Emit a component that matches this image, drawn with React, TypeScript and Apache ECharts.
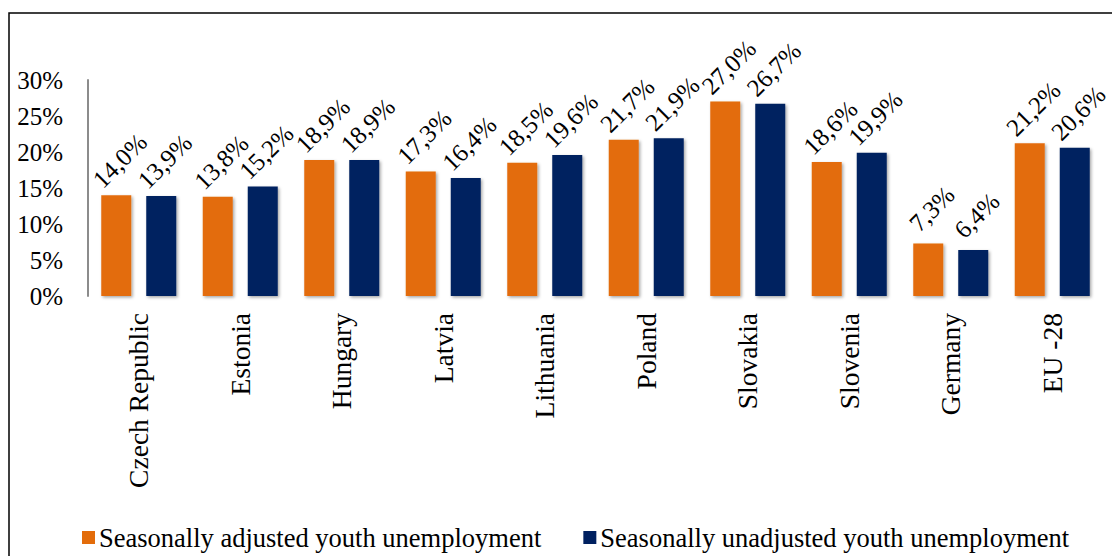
import React, { useEffect, useRef } from "react";
import * as echarts from "echarts";

// Youth unemployment rates by country (%)
const countries = [
  "Czech Republic",
  "Estonia",
  "Hungary",
  "Latvia",
  "Lithuania",
  "Poland",
  "Slovakia",
  "Slovenia",
  "Germany",
  "EU -28",
];
const adjusted = [14.0, 13.8, 18.9, 17.3, 18.5, 21.7, 27.0, 18.6, 7.3, 21.2];
const unadjusted = [13.9, 15.2, 18.9, 16.4, 19.6, 21.9, 26.7, 19.9, 6.4, 20.6];
const seriesNames = [
  "Seasonally adjusted youth unemployment",
  "Seasonally unadjusted youth unemployment",
];
const yTicks = { min: 0, max: 30, interval: 5 };

const FONT = '"Liberation Serif", "Times New Roman", serif';
const ORANGE = "#E36C0A";
const NAVY = "#002060";

const fmtPct = (v: number) => v.toFixed(1).replace(".", ",") + "%";

export default function App() {
  const ref = useRef<HTMLDivElement>(null);

  useEffect(() => {
    if (!ref.current) return;
    const chart = echarts.init(ref.current, null, { renderer: "svg" });

    const barStyle = (color: string) => ({
      color,
      shadowColor: "rgba(0,0,0,0.35)",
      shadowBlur: 3,
      shadowOffsetX: 1.5,
      shadowOffsetY: 1.5,
    });

    const valueLabel = {
      show: true,
      position: "top" as const,
      distance: 31,
      offset: [5, 0],
      rotate: 45,
      align: "center" as const,
      verticalAlign: "middle" as const,
      fontFamily: FONT,
      fontSize: 25,
      color: "#000",
      formatter: (p: any) => fmtPct(p.value),
    };

    chart.setOption({
      animation: false,
      backgroundColor: "#fff",
      textStyle: { fontFamily: FONT },
      graphic: [
        {
          type: "rect",
          shape: { x: 9, y: 13, width: 1300, height: 700 },
          style: { fill: "none", stroke: "#000", lineWidth: 1.5 },
          silent: true,
        },
      ],
      grid: { left: 88, right: 9, top: 80, bottom: 260 },
      legend: {
        data: seriesNames,
        left: 82,
        top: 524,
        padding: 0,
        itemWidth: 13,
        itemHeight: 13,
        itemGap: 42,
        icon: "rect",
        textStyle: {
          fontFamily: FONT,
          fontSize: 26.5,
          color: "#000",
          lineHeight: 27,
          padding: [0, 0, 0, -1],
        },
      },
      xAxis: {
        type: "category",
        data: countries,
        axisLine: {
          lineStyle: {
            color: "#8c8c8c",
            width: 2,
            shadowColor: "rgba(0,0,0,0.25)",
            shadowBlur: 2,
            shadowOffsetY: 1,
          },
        },
        axisTick: { show: false },
        axisLabel: {
          rotate: 90,
          margin: 17,
          fontFamily: FONT,
          fontSize: 27.5,
          color: "#000",
          interval: 0,
        },
      },
      yAxis: {
        type: "value",
        min: yTicks.min,
        max: yTicks.max,
        interval: yTicks.interval,
        splitLine: { show: false },
        axisTick: { show: false },
        axisLine: { show: true, lineStyle: { color: "#8c8c8c", width: 2 } },
        axisLabel: {
          margin: 25,
          fontFamily: FONT,
          fontSize: 25,
          color: "#000",
          formatter: (v: number) => `${v}%`,
        },
      },
      series: [
        {
          name: seriesNames[0],
          type: "bar",
          data: adjusted,
          barWidth: 30,
          barGap: "50%",
          itemStyle: barStyle(ORANGE),
          label: valueLabel,
        },
        {
          name: seriesNames[1],
          type: "bar",
          data: unadjusted,
          barWidth: 30,
          itemStyle: barStyle(NAVY),
          label: valueLabel,
        },
      ],
    });

    return () => chart.dispose();
  }, []);

  return (
    <div
      ref={ref}
      style={{ position: "absolute", left: 0, top: 0, width: 1112, height: 556 }}
    />
  );
}
